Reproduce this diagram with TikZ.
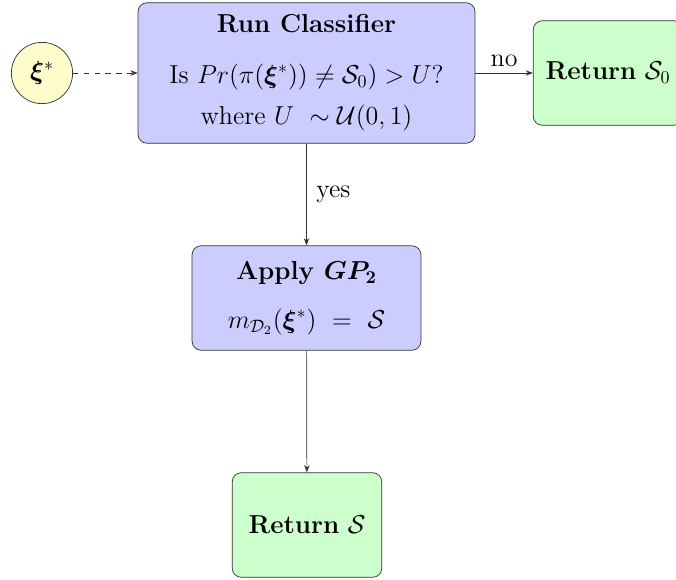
\documentclass[tikz,border=0pt]{standalone}
\usepackage{amsmath,amssymb,bm}
\usetikzlibrary{arrows.meta,positioning}

\tikzset{every picture/.style={line width=0.4pt}}

\begin{document}
\begin{tikzpicture}[x=0.555pt,y=0.555pt,yscale=-1,xscale=1,font=\Large,
  procbox/.style={draw=black!80, fill=blue!20, rounded corners=5pt, align=center},
  endbox/.style={draw=black!80, fill=green!20, rounded corners=5pt, minimum width=83pt, minimum height=58pt},
  inputnode/.style={draw=black!80, fill=yellow!20, circle, minimum size=34pt, inner sep=0pt},
  flow/.style={draw=black!80, -{Stealth[length=4pt,width=3pt]}}]
%set diagram size to the reference
\useasboundingbox (0,0) rectangle (676,579);

%Input [id:xi]
\node[inputnode] (xi) at (42,73) {$\boldsymbol{\xi}^*$};
%Classifier [id:clf]
\node[procbox, minimum width=187pt, minimum height=78pt] (clf) at (306.5,73) {\textbf{Run Classifier}\\[10pt] Is $Pr(\pi(\boldsymbol{\xi}^*))\neq\mathcal{S}_0) > U$?\\[5pt] where $U\ \sim\mathcal{U}(0,1)$};
%Return S0 [id:ret0]
\node[endbox] (ret0) at (608,73) {\textbf{Return} $\mathcal{S}_0$};
%Apply GP2 [id:gp]
\node[procbox, minimum width=127pt, minimum height=58pt] (gp) at (306.5,298) {\textbf{Apply $\boldsymbol{GP_2}$}\\[9pt] $m_{\mathcal{D}_2}(\boldsymbol{\xi}^*)\ =\ \mathcal{S}$};
%Return S [id:ret]
\node[endbox] (ret) at (307,525) {\textbf{Return} $\mathcal{S}$};

%Connectors
\draw[flow, dashed] (xi) -- (clf);
\draw[flow] (clf) -- node[above] {no} (ret0);
\draw[flow] (clf) -- node[right=2pt] {yes} (gp);
\draw[flow] (gp) -- (ret);

\end{tikzpicture}
\end{document}
